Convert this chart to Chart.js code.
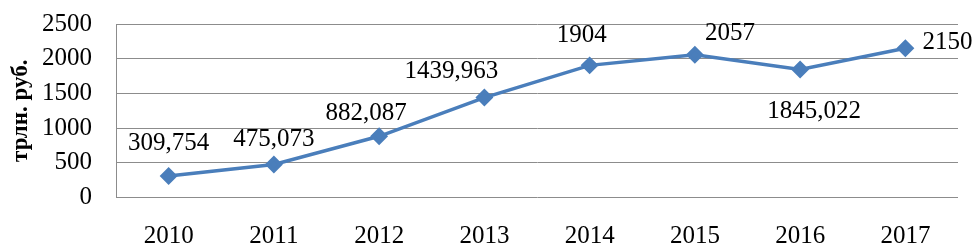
<!DOCTYPE html>
<html lang="ru">
<head>
    <meta charset="UTF-8">
    <title>трлн. руб.</title>
    <script src="https://cdn.jsdelivr.net/npm/chart.js@4.4.0/dist/chart.umd.min.js"></script>
    <style>
        html, body { margin: 0; padding: 0; background: #fff; }
        #wrap { width: 979px; height: 250px; position: relative; }
    </style>
</head>
<body>
    <div id="wrap"><canvas id="chart"></canvas></div>
    <script>
        // chart data
        const years = ['2010', '2011', '2012', '2013', '2014', '2015', '2016', '2017'];
        const values = [309.754, 475.073, 882.087, 1439.963, 1904, 2057, 1845.022, 2150];
        const yTicks = [0, 500, 1000, 1500, 2000, 2500];

        // where each value label sits relative to its point (px)
        const labelOffsets = [[0, -33], [0, -25], [-13, -23], [-33, -26], [-8, -30], [35, -21], [14, 42], [42, -6]];

        const serif = '"Liberation Serif", "Times New Roman", serif';
        const gridGray = '#8c8c8c';
        const blue = '#4a7ebb';

        // draw value labels (comma as decimal separator)
        const valueLabels = {
            id: 'valueLabels',
            afterDatasetsDraw(chart) {
                const ctx = chart.ctx;
                const meta = chart.getDatasetMeta(0);
                ctx.save();
                ctx.font = '25px ' + serif;
                ctx.fillStyle = '#000';
                ctx.textAlign = 'center';
                ctx.textBaseline = 'middle';
                meta.data.forEach((pt, i) => {
                    const txt = String(values[i]).replace('.', ',');
                    const off = labelOffsets[i];
                    ctx.fillText(txt, pt.x + off[0], pt.y + off[1]);
                });
                ctx.restore();
            }
        };

        new Chart(document.getElementById('chart'), {
            type: 'line',
            data: {
                labels: years,
                datasets: [{
                    data: values,
                    borderColor: blue,
                    backgroundColor: blue,
                    borderWidth: 3.5,
                    pointStyle: 'rectRot',
                    pointRadius: 6.5,
                    pointHoverRadius: 6.5,
                    pointBackgroundColor: blue,
                    pointBorderColor: blue,
                    tension: 0
                }]
            },
            options: {
                responsive: true,
                maintainAspectRatio: false,
                animation: false,
                layout: { padding: { top: 24, right: 21, left: 0, bottom: 0 } },
                plugins: {
                    legend: { display: false },
                    tooltip: { enabled: false }
                },
                scales: {
                    x: {
                        offset: true,
                        grid: { display: false, drawTicks: false },
                        border: { display: false },
                        ticks: { color: '#000', padding: 24, maxRotation: 0, autoSkip: false, font: { family: serif, size: 25 } },
                        afterFit(scale) { scale.height = 52.5; }
                    },
                    y: {
                        min: 0,
                        max: 2500,
                        afterBuildTicks(scale) { scale.ticks = yTicks.map(v => ({ value: v })); },
                        grid: { color: gridGray, lineWidth: 1, drawTicks: false },
                        border: { display: true, color: gridGray, width: 1 },
                        ticks: {
                            color: '#000',
                            padding: 24,
                            autoSkip: false,
                            font: { family: serif, size: 25 },
                            callback: v => String(v)
                        },
                        title: {
                            display: true,
                            text: 'трлн. руб.',
                            color: '#000',
                            padding: { top: 7, bottom: 0 },
                            font: { family: serif, size: 23, weight: 'bold' }
                        },
                        afterFit(scale) {
                            scale.width = 116;
                            scale.paddingTop = 0;
                            scale.paddingBottom = 0;
                        }
                    }
                }
            },
            plugins: [valueLabels]
        });
    </script>
</body>
</html>
